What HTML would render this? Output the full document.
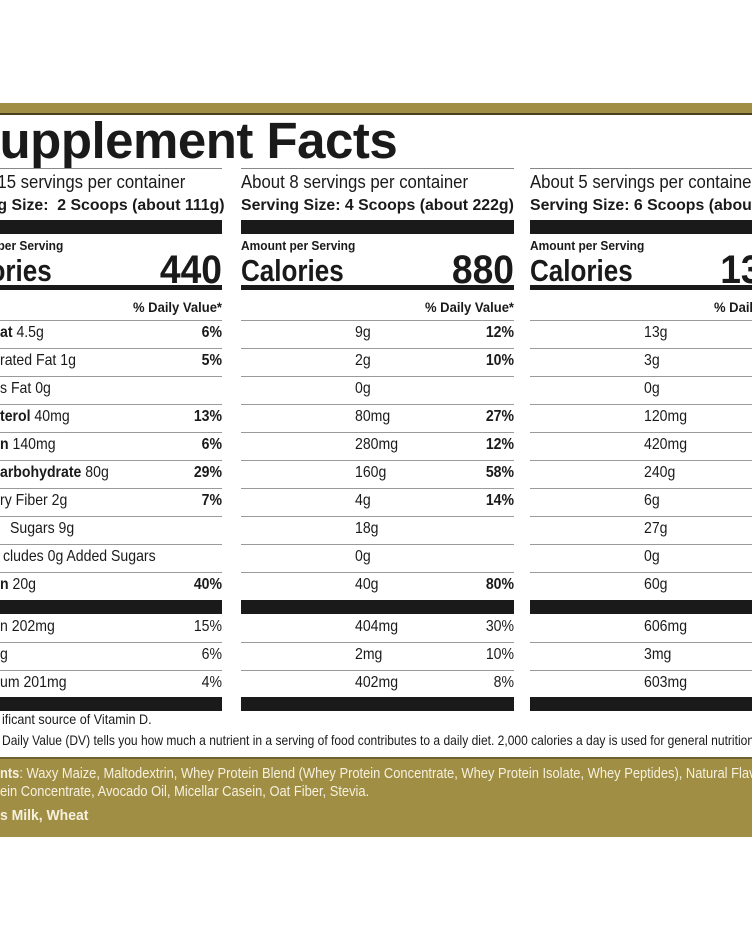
<!DOCTYPE html>
<html><head><meta charset="utf-8"><style>
*{margin:0;padding:0;box-sizing:border-box}
body{width:752px;height:940px;overflow:hidden;background:#fff;position:relative;font-family:"Liberation Sans",sans-serif;color:#1a1a1a}
.a{position:absolute;white-space:nowrap}
.b{font-weight:bold}
.l{transform-origin:left center}
.r{transform-origin:right center}
.ln{position:absolute;height:1px;background:#9a9a9a}
.bar{position:absolute;background:#1a1a1a}
</style></head><body>
<div class="a" style="left:0;top:103px;width:752px;height:12px;background:#a08e44;border-bottom:2px solid #4a4020"></div>
<div class="a b" style="left:-34px;top:112px;font-size:51px;font-weight:900;letter-spacing:-0.5px;line-height:58px">Supplement Facts</div>
<div id="g"></div>
<div class="a l" style="left:2px;top:711px;font-size:14px;transform:scaleX(.9)">ificant source of Vitamin D.</div>
<div class="a l" style="left:2px;top:732px;font-size:14px;transform:scaleX(.86)">Daily Value (DV) tells you how much a nutrient in a serving of food contributes to a daily diet. 2,000 calories a day is used for general nutrition advice.</div>
<div class="a" style="left:0;top:757px;width:752px;height:80px;background:#a08e44;border-top:2px solid #6e6230"></div>
<div class="a l" style="left:0;top:765px;font-size:14.5px;color:#f6f1df;line-height:18px;transform:scaleX(.89)"><b>nts</b>: Waxy Maize, Maltodextrin, Whey Protein Blend (Whey Protein Concentrate, Whey Protein Isolate, Whey Peptides), Natural Flavors<br>ein Concentrate, Avocado Oil, Micellar Casein, Oat Fiber, Stevia.</div>
<div class="a b l" style="left:0;top:807px;font-size:15px;color:#f6f1df;transform:scaleX(.93)">s Milk, Wheat</div>
<script>
var cols=[{x:-51,srv:"About 15 servings per container",ss:"Serving Size:&nbsp; 2 Scoops (about 111g)",cal:"440",
 amt:null,p:["6%","5%","","13%","6%","29%","7%","","","40%"],p2:["15%","6%","4%"]},
 {x:241,srv:"About 8 servings per container",ss:"Serving Size: 4 Scoops (about 222g)",cal:"880",
 amt:["9g","2g","0g","80mg","280mg","160g","4g","18g","0g","40g"],p:["12%","10%","","27%","12%","58%","14%","","","80%"],am2:["404mg","2mg","402mg"],p2:["30%","10%","8%"]},
 {x:530,srv:"About 5 servings per container",ss:"Serving Size: 6 Scoops (about 333g)",cal:"1320",
 amt:["13g","3g","0g","120mg","420mg","240g","6g","27g","0g","60g"],p:["18%","15%","","40%","18%","87%","21%","","","120%"],am2:["606mg","3mg","603mg"],p2:["45%","15%","12%"]}];
var h="",W=273,S="transform:scaleX(.88);";
var lab=[["<b>at</b> 4.5g",0],["rated Fat 1g",0],["s Fat 0g",0],["<b>terol</b> 40mg",0],["<b>n</b> 140mg",0],["<b>arbohydrate</b> 80g",0],["ry Fiber 2g",0],[" Sugars 9g",10],["cludes 0g Added Sugars",3],["<b>n</b> 20g",0]];
var lab2=["n 202mg","g","um 201mg"];
cols.forEach(function(c,ci){
 var x=c.x,r=x+W;
 h+='<div class="ln" style="left:'+x+'px;top:168px;width:'+W+'px;background:#888"></div>';
 h+='<div class="a l" style="left:'+x+'px;top:172px;font-size:18px;transform:scaleX(.93)">'+c.srv+'</div>';
 h+='<div class="a b l" style="left:'+x+'px;top:197px;font-size:16px;transform:scaleX(.99)">'+c.ss+'</div>';
 h+='<div class="bar" style="left:'+x+'px;top:220px;width:'+W+'px;height:14px"></div>';
 h+='<div class="a b l" style="left:'+x+'px;top:238px;font-size:13px;transform:scaleX(.92)">Amount per Serving</div>';
 h+='<div class="a b l" style="left:'+x+'px;top:253px;font-size:31px;line-height:36px;transform:scaleX(.84)">Calories</div>';
 h+='<div class="a b r" style="left:'+(r-150)+'px;width:150px;text-align:right;top:248px;font-size:40px;line-height:44px;transform:scaleX(.93)">'+c.cal+'</div>';
 h+='<div class="bar" style="left:'+x+'px;top:285px;width:'+W+'px;height:5px"></div>';
 h+='<div class="a b r" style="left:'+(r-150)+'px;width:150px;text-align:right;top:299px;font-size:14px;transform:scaleX(.93)">% Daily Value*</div>';
 h+='<div class="ln" style="left:'+x+'px;top:320px;width:'+W+'px"></div>';
 for(var i=0;i<10;i++){var y=334+28*i;
  if(ci==0)h+='<div class="a l" style="left:'+lab[i][1]+'px;top:'+(y-10)+'px;font-size:16px;'+S+'">'+lab[i][0]+'</div>';
  else h+='<div class="a l" style="left:'+(x+114)+'px;top:'+(y-10)+'px;font-size:16px;'+S+'">'+c.amt[i]+'</div>';
  h+='<div class="a b r" style="left:'+(r-80)+'px;width:80px;text-align:right;top:'+(y-10)+'px;font-size:16px;'+S+'">'+c.p[i]+'</div>';
  if(i<9)h+='<div class="ln" style="left:'+x+'px;top:'+(y+14)+'px;width:'+W+'px"></div>';}
 h+='<div class="bar" style="left:'+x+'px;top:600px;width:'+W+'px;height:14px"></div>';
 for(var j=0;j<3;j++){var y=628+28*j;
  if(ci==0)h+='<div class="a l" style="left:0;top:'+(y-10)+'px;font-size:16px;'+S+'">'+lab2[j]+'</div>';
  else h+='<div class="a l" style="left:'+(x+114)+'px;top:'+(y-10)+'px;font-size:16px;'+S+'">'+c.am2[j]+'</div>';
  h+='<div class="a r" style="left:'+(r-80)+'px;width:80px;text-align:right;top:'+(y-10)+'px;font-size:16px;'+S+'">'+c.p2[j]+'</div>';
  if(j<2)h+='<div class="ln" style="left:'+x+'px;top:'+(y+14)+'px;width:'+W+'px"></div>';}
 h+='<div class="bar" style="left:'+x+'px;top:697px;width:'+W+'px;height:14px"></div>';
});
document.getElementById("g").innerHTML=h;
</script>
</body></html>
